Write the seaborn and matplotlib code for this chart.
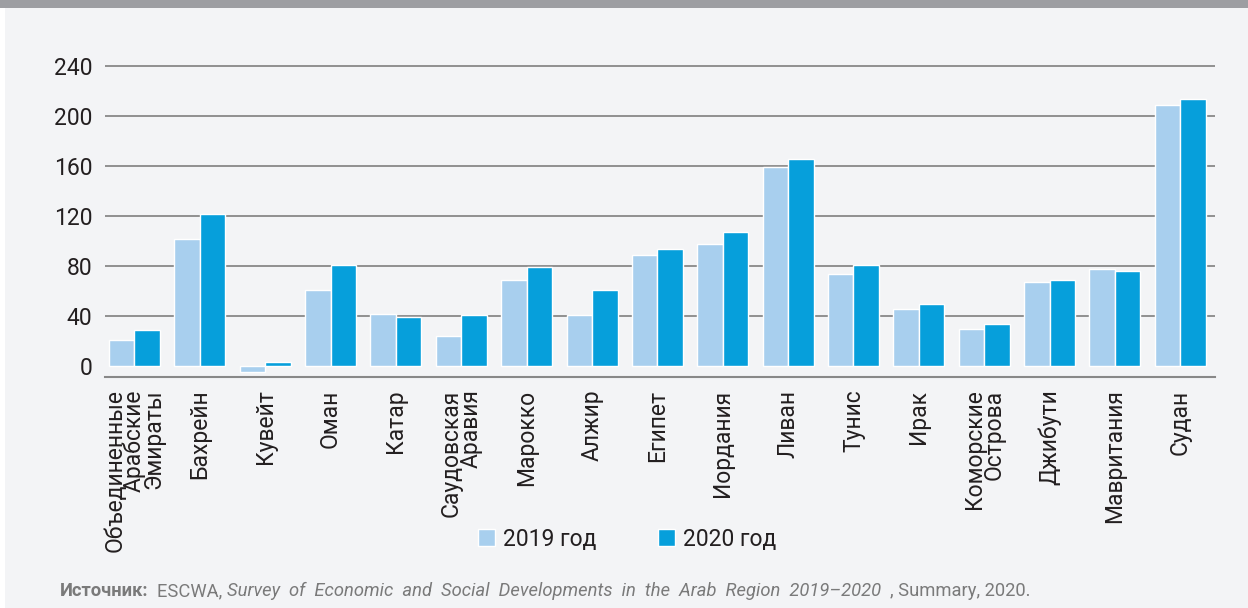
import matplotlib
matplotlib.use("Agg")
import matplotlib.pyplot as plt
import matplotlib.patches as mpatches
import seaborn as sns
import pandas as pd

countries = ["Объединенные\nАрабские\nЭмираты", "Бахрейн", "Кувейт", "Оман", "Катар",
             "Саудовская\nАравия", "Марокко", "Алжир", "Египет", "Иордания", "Ливан",
             "Тунис", "Ирак", "Коморские\nОстрова", "Джибути", "Мавритания", "Судан"]
values_2019 = [21, 102, -5, 61, 42, 24, 69, 41, 89, 98, 159, 74, 46, 30, 67, 78, 209]
values_2020 = [29, 122, 3, 81, 39, 41, 79, 61, 94, 107, 166, 81, 50, 34, 69, 76, 214]
series_labels = ["2019 год", "2020 год"]
y_ticks = [0, 40, 80, 120, 160, 200, 240]

BG = "#f3f4f6"
LIGHT = "#a8cfee"
DARK = "#069fdb"
GRID = "#888888"
TXT = "#231f20"

df = pd.DataFrame({
    "country": countries * 2,
    "year": [series_labels[0]] * len(countries) + [series_labels[1]] * len(countries),
    "value": values_2019 + values_2020,
})

sns.set_theme(style="white")
plt.rcParams["font.family"] = ["Roboto", "DejaVu Sans"]

W, H = 1248, 608
fig = plt.figure(figsize=(W / 100, H / 100), dpi=100, facecolor=BG)
# top band and left strip
fig.patches.append(mpatches.Rectangle((0, 1 - 8 / H), 1, 8 / H, transform=fig.transFigure,
                                      facecolor="#9d9ea2", edgecolor="none", zorder=0))
fig.patches.append(mpatches.Rectangle((0, 0), 5 / W, 1 - 8 / H, transform=fig.transFigure,
                                      facecolor="#ffffff", edgecolor="none", zorder=0))

ymin, ymax = -8.8, 240.5
px_per_unit = 1.25
top_px = 366 - ymax * px_per_unit
bot_px = 366 - ymin * px_per_unit
left_px, right_px = 105, 1215
ax = fig.add_axes([left_px / W, 1 - bot_px / H, (right_px - left_px) / W, (bot_px - top_px) / H])
ax.set_facecolor(BG)

sns.barplot(data=df, x="country", y="value", hue="year", ax=ax,
            palette={series_labels[0]: LIGHT, series_labels[1]: DARK},
            width=0.78, saturation=1, legend=True, zorder=3)

ax.set_ylim(ymin, ymax)
ax.set_xlim(-0.45, len(countries) - 0.47)
ax.set_yticks(y_ticks)
ax.set_yticklabels([str(t) for t in y_ticks])
ax.set_xlabel("")
ax.set_ylabel("")

ax.grid(axis="y", color=GRID, linewidth=1.3, zorder=0)
ax.grid(axis="x", visible=False)
ax.set_axisbelow(True)
for gl, t in zip(ax.get_ygridlines(), y_ticks):
    if t == 0:
        gl.set_visible(False)

for s in ["top", "right", "left"]:
    ax.spines[s].set_visible(False)
ax.spines["bottom"].set_color(GRID)
ax.spines["bottom"].set_linewidth(1.5)

ax.tick_params(axis="y", length=0, pad=9, labelsize=16.5, labelcolor=TXT)
ax.tick_params(axis="x", length=0, pad=9, labelsize=16.5, labelcolor=TXT)
for lbl in ax.get_xticklabels():
    lbl.set_rotation(90)
    lbl.set_va("top")
    lbl.set_ha("center")
    lbl.set_multialignment("right")
    lbl.set_linespacing(0.8)

handles, labels = ax.get_legend_handles_labels()
ax.get_legend().remove()
fig.legend(handles, labels, loc="center", bbox_to_anchor=(627 / W, 1 - 539 / H),
           ncol=2, frameon=False, fontsize=16.5, handlelength=0.75, handleheight=0.75,
           handletextpad=0.35, columnspacing=2.7, labelcolor=TXT)

# source line
fig.canvas.draw()
renderer = fig.canvas.get_renderer()
x = 60 / W
y = 1 - 591 / H
parts = [("Источник:", "bold", "normal"), ("  ESCWA, ", "normal", "normal"),
         ("Survey  of  Economic  and  Social  Developments  in  the  Arab  Region  2019–2020", "normal", "italic"),
         ("  , Summary, 2020.", "normal", "normal")]
for txt, weight, style in parts:
    t = fig.text(x, y, txt, fontsize=13.2, color="#7a7a7a", fontweight=weight, fontstyle=style,
                 va="center", ha="left")
    bb = t.get_window_extent(renderer=renderer)
    x += bb.width / W

fig.savefig("out.png", dpi=100, facecolor=BG)
